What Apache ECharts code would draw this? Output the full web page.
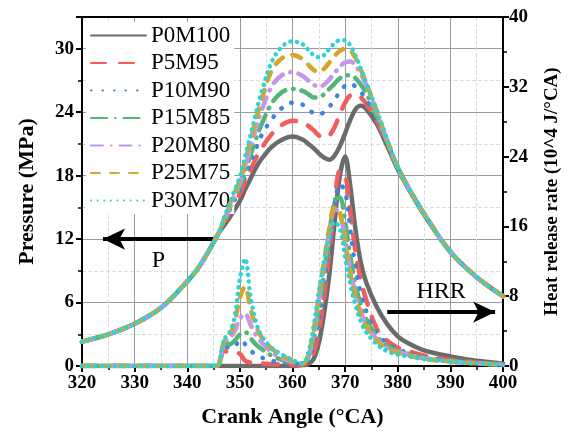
<!DOCTYPE html>
<html>
<head>
<meta charset="utf-8">
<script src="https://cdn.jsdelivr.net/npm/echarts@6/dist/echarts.min.js"></script>
<style>
  html, body { margin: 0; padding: 0; background: #fff; }
  #chart { width: 570px; height: 435px; }
</style>
</head>
<body>
<div id="chart"></div>
<script>
// crank angle (°CA)
const angles = [320, 325, 330, 335, 340, 342, 344, 345, 346, 347, 348, 349, 350, 351, 352, 353, 354, 356, 358, 360, 362,
  363, 364, 365, 366, 367, 368, 369, 370, 371, 372, 373, 374, 376, 378, 380, 382, 385, 390, 395, 400];

const blends = ['P0M100', 'P5M95', 'P10M90', 'P15M85', 'P20M80', 'P25M75', 'P30M70'];

// cylinder pressure (MPa)
const pressP0M100 = [2.3, 3.0, 4.0, 5.5, 8.0, 9.2, 10.8, 11.7, 12.6, 13.3, 14.0, 14.8, 15.6, 16.7, 17.7, 18.7, 19.5, 20.7, 21.4, 21.7, 21.4,
  21.0, 20.6, 20.1, 19.7, 19.5, 19.9, 20.8, 22.0, 23.3, 24.3, 24.6, 24.3, 22.9, 20.8, 18.6, 16.8, 14.3, 10.8, 8.4, 6.6];
const pressP5M95 = [2.3, 3.0, 4.0, 5.5, 8.0, 9.2, 10.8, 11.7, 12.6, 13.5, 14.5, 15.4, 16.3, 17.4, 18.5, 19.6, 20.5, 21.9, 22.8, 23.2, 23.0,
  22.7, 22.3, 21.8, 21.6, 21.8, 22.6, 23.8, 24.9, 25.6, 25.7, 25.4, 24.8, 23.2, 21.0, 18.8, 16.9, 14.4, 10.8, 8.4, 6.6];
const pressP10M90 = [2.3, 3.0, 4.0, 5.5, 8.0, 9.2, 10.8, 11.7, 12.6, 13.6, 14.7, 15.7, 16.7, 17.9, 19.2, 20.5, 21.7, 23.3, 24.4, 24.9, 24.7,
  24.3, 23.9, 23.8, 24.0, 24.5, 25.2, 25.9, 26.5, 26.7, 26.4, 25.9, 25.2, 23.5, 21.1, 18.8, 16.9, 14.4, 10.8, 8.4, 6.6];
const pressP15M85 = [2.3, 3.0, 4.0, 5.5, 8.0, 9.2, 10.8, 11.7, 12.6, 13.7, 14.9, 16.0, 17.0, 18.4, 19.9, 21.4, 22.7, 24.8, 25.9, 26.2, 26.0,
  25.7, 25.4, 25.4, 25.7, 26.2, 26.7, 27.2, 27.5, 27.5, 27.2, 26.6, 25.8, 23.7, 21.2, 18.8, 16.9, 14.4, 10.8, 8.4, 6.6];
const pressP20M80 = [2.3, 3.0, 4.0, 5.5, 8.0, 9.2, 10.8, 11.7, 12.6, 13.8, 15.0, 16.2, 17.3, 18.9, 20.6, 22.4, 24.0, 26.4, 27.5, 27.8, 27.4,
  27.0, 26.6, 26.4, 26.6, 27.1, 27.7, 28.3, 28.7, 28.8, 28.4, 27.6, 26.6, 24.0, 21.3, 18.8, 16.9, 14.4, 10.8, 8.4, 6.6];
const pressP25M75 = [2.3, 3.0, 4.0, 5.5, 8.0, 9.2, 10.8, 11.7, 12.6, 13.9, 15.2, 16.4, 17.6, 19.4, 21.3, 23.2, 25.0, 27.9, 29.1, 29.4, 29.0,
  28.5, 28.0, 27.8, 28.1, 28.7, 29.3, 29.8, 30.0, 29.8, 29.1, 28.0, 26.8, 24.1, 21.3, 18.8, 16.9, 14.4, 10.8, 8.4, 6.6];
const pressP30M70 = [2.3, 3.0, 4.0, 5.5, 8.0, 9.2, 10.8, 11.7, 12.6, 14.0, 15.3, 16.6, 17.9, 19.8, 21.8, 23.8, 25.7, 28.7, 30.2, 30.7, 30.4,
  29.9, 29.4, 29.2, 29.4, 30.0, 30.5, 30.8, 30.8, 30.3, 29.3, 28.1, 26.8, 24.2, 21.4, 18.8, 16.9, 14.4, 10.8, 8.4, 6.6];

// heat release rate (10^4 J/°CA)
const hrrP0M100 = [0, 0, 0, 0, 0, 0, 0, 0, 0, 0, 0, 0, 0, 0, 0, 0, 0, 0, 0, 0, 0.1,
  0.2, 0.8, 2.6, 6.0, 10.5, 16.5, 21.8, 24.0, 20.5, 15.5, 11.8, 9.6, 6.8, 4.8, 3.4, 2.6, 1.8, 1.1, 0.6, 0.3];
const hrrP5M95 = [0, 0, 0, 0, 0, 0, 0, 0, 0.2, 1.8, 1.5, 1.5, 1.4, 0.6, 0.4, 0.3, 0.3, 0.2, 0.2, 0.1, 0.2,
  0.5, 1.5, 4.0, 8.0, 13.0, 18.5, 22.3, 22.0, 17.5, 13.0, 9.8, 7.6, 4.3, 2.9, 2.1, 1.7, 1.2, 0.7, 0.4, 0.2];
const hrrP10M90 = [0, 0, 0, 0, 0, 0, 0, 0, 0.2, 2.4, 2.1, 2.2, 3.0, 2.5, 1.8, 1.3, 1.0, 0.6, 0.4, 0.3, 0.3,
  0.8, 2.4, 5.4, 9.5, 14.0, 18.5, 20.8, 20.0, 15.5, 11.2, 8.3, 6.3, 3.8, 2.6, 1.9, 1.5, 1.0, 0.6, 0.3, 0.2];
const hrrP15M85 = [0, 0, 0, 0, 0, 0, 0, 0, 0.2, 2.6, 2.5, 2.9, 3.6, 3.9, 3.2, 2.5, 2.0, 1.2, 0.7, 0.4, 0.3,
  1.0, 3.0, 6.5, 10.5, 15.0, 19.0, 19.3, 16.5, 12.5, 9.2, 7.0, 5.4, 3.4, 2.3, 1.7, 1.4, 0.9, 0.6, 0.3, 0.2];
const hrrP20M80 = [0, 0, 0, 0, 0, 0, 0, 0, 0.2, 2.7, 3.1, 4.0, 5.4, 6.0, 4.8, 3.6, 2.8, 1.6, 0.9, 0.5, 0.3,
  1.2, 3.5, 7.5, 11.5, 15.5, 18.0, 17.5, 14.5, 11.0, 8.2, 6.2, 4.8, 3.1, 2.1, 1.6, 1.3, 0.9, 0.5, 0.3, 0.2];
const hrrP25M75 = [0, 0, 0, 0, 0, 0, 0, 0, 0.2, 2.9, 3.5, 5.0, 7.8, 9.1, 6.6, 4.7, 3.4, 2.0, 1.2, 0.6, 0.3,
  1.3, 4.0, 8.0, 12.0, 15.8, 18.2, 17.6, 14.0, 10.5, 7.8, 5.8, 4.5, 2.9, 2.0, 1.5, 1.2, 0.8, 0.5, 0.3, 0.1];
const hrrP30M70 = [0, 0, 0, 0, 0, 0, 0, 0, 0.2, 3.0, 3.8, 5.6, 10.0, 12.3, 8.0, 5.2, 3.6, 2.1, 1.3, 0.7, 0.3,
  1.5, 4.5, 8.5, 12.0, 14.8, 16.5, 15.8, 12.5, 9.3, 6.9, 5.1, 3.9, 2.5, 1.7, 1.3, 1.1, 0.8, 0.5, 0.3, 0.1];

const pressure = [pressP0M100, pressP5M95, pressP10M90, pressP15M85, pressP20M80, pressP25M75, pressP30M70];
const hrr = [hrrP0M100, hrrP5M95, hrrP10M90, hrrP15M85, hrrP20M80, hrrP25M75, hrrP30M70];

const colors = ['#6b6b6b', '#f25c5c', '#3d84e0', '#52b57a', '#c497ea', '#d4a62a', '#2dd3d6'];
const dashes = ['solid', [15, 13], [0.5, 11], [16, 8, 0.5, 8], [12, 8, 0.5, 8], [9, 10], [0.1, 6.5]];

const font = "'Liberation Serif', 'Times New Roman', serif";

const chart = echarts.init(document.getElementById('chart'));

const makeSeries = (values, idx, yAxisIndex) => ({
  name: blends[idx],
  type: 'line',
  yAxisIndex,
  smooth: 0.35,
  showSymbol: false,
  symbol: 'none',
  data: angles.map((a, i) => [a, values[i]]),
  lineStyle: {
    color: colors[idx],
    width: 4.5,
    type: dashes[idx],
    cap: 'round',
  },
  itemStyle: { color: colors[idx] },
  z: 2 + idx,
});

const series = [];
pressure.forEach((v, i) => series.push(makeSeries(v, i, 0)));
hrr.forEach((v, i) => series.push(makeSeries(v, i, 1)));

// direction arrows for P and HRR
series[0].markLine = {
  silent: true,
  animation: false,
  symbolSize: [16, 22],
  lineStyle: { color: '#000', width: 4, type: 'solid' },
  label: {
    show: true,
    fontFamily: font,
    fontSize: 24,
    color: '#000',
    distance: 8,
  },
  data: [
    [
      { coord: [324, 12], symbol: 'arrow', label: { formatter: 'P', position: 'insideMiddleBottom', distance: 10 } },
      { coord: [345, 12], symbol: 'none' },
    ],
    [
      { coord: [378, 5.1], symbol: 'none', label: { formatter: 'HRR', position: 'insideMiddleTop' } },
      { coord: [398.5, 5.1], symbol: 'arrow' },
    ],
  ],
};

const axisLine = { show: true, onZero: false, lineStyle: { color: '#000', width: 2 } };
const axisTick = { show: true, length: 6, lineStyle: { color: '#000', width: 2 } };
const minorTick = { show: true, splitNumber: 2, length: 4, lineStyle: { color: '#000', width: 1.5 } };
const axisLabel = { fontFamily: font, fontSize: 19, fontWeight: 'bold', color: '#000' };
const splitLine = { show: true, lineStyle: { color: '#9a9a9a', width: 1 } };
const minorSplitLine = { show: true, lineStyle: { color: '#dcdcdc', width: 1, type: 'dashed' } };

chart.setOption({
  animation: false,
  backgroundColor: '#fff',
  grid: { left: 82, right: 61, top: 17, bottom: 69 },
  legend: {
    data: blends,
    orient: 'vertical',
    left: 86,
    top: 22,
    padding: [2, 4, 2, 4],
    itemGap: 4.5,
    itemWidth: 55,
    itemHeight: 14,
    backgroundColor: '#fff',
    itemStyle: { opacity: 0, borderWidth: 0 },
    textStyle: { fontFamily: font, fontSize: 23, color: '#000' },
  },
  xAxis: [
    {
      type: 'value',
      min: 320,
      max: 400,
      interval: 10,
      position: 'bottom',
      name: 'Crank Angle (°CA)',
      nameLocation: 'middle',
      nameGap: 40,
      nameTextStyle: { fontFamily: font, fontSize: 22, fontWeight: 'bold', color: '#000' },
      axisLine,
      axisTick,
      minorTick,
      axisLabel: { ...axisLabel, margin: 8 },
      splitLine,
      minorSplitLine,
    },
    {
      type: 'value',
      min: 320,
      max: 400,
      position: 'top',
      axisLine,
      axisTick: { show: false },
      axisLabel: { show: false },
      splitLine: { show: false },
    },
  ],
  yAxis: [
    {
      type: 'value',
      min: 0,
      max: 33,
      interval: 6,
      position: 'left',
      name: 'Pressure (MPa)',
      nameLocation: 'middle',
      nameGap: 44,
      nameTextStyle: { fontFamily: font, fontSize: 22, fontWeight: 'bold', color: '#000' },
      axisLine,
      axisTick,
      minorTick,
      axisLabel: { ...axisLabel, showMaxLabel: false, margin: 8 },
      splitLine,
      minorSplitLine,
    },
    {
      type: 'value',
      min: 0,
      max: 40,
      interval: 8,
      position: 'right',
      name: 'Heat release rate (10^4 J/°CA)',
      nameLocation: 'middle',
      nameGap: 40,
      nameTextStyle: { fontFamily: font, fontSize: 19, fontWeight: 'bold', color: '#000' },
      axisLine,
      axisTick,
      minorTick,
      axisLabel: { ...axisLabel, margin: 6 },
      splitLine: { show: false },
    },
  ],
  series,
});
</script>
</body>
</html>
